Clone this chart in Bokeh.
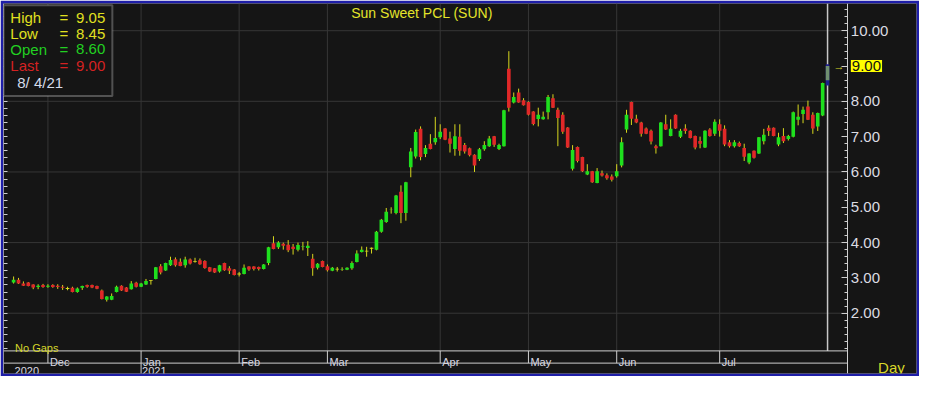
import numpy as np
from bokeh.plotting import figure
from bokeh.models import (ColumnDataSource, FixedTicker, LinearAxis, Range1d, Label,
                          PrintfTickFormatter, BoxAnnotation)
from bokeh.embed import file_html
from bokeh.resources import INLINE

# ---------------- data ----------------
title_text = "Sun Sweet PCL (SUN)"
opens = [2.87, 2.95, 2.84, 2.87, 2.81, 2.74, 2.80, 2.75, 2.80, 2.78, 2.75, 2.70, 2.72, 2.60, 2.72, 2.80, 2.80, 2.77, 2.64, 2.38,
         2.38, 2.60, 2.78, 2.73, 2.68, 2.86, 2.75, 2.81, 2.93, 2.97, 3.33, 3.21, 3.36, 3.53, 3.46, 3.36, 3.52, 3.47, 3.50, 3.48,
         3.30, 3.27, 3.18, 3.42, 3.27, 3.24, 3.11, 3.11, 3.32, 3.32, 3.31, 3.25, 3.42, 3.98, 3.87, 3.97, 3.94, 3.88, 3.80, 3.89,
         3.85, 3.54, 3.29, 3.48, 3.33, 3.20, 3.25, 3.24, 3.23, 3.27, 3.45, 3.73, 3.76, 3.84, 3.80, 4.31, 4.58, 4.93, 4.84, 5.44,
         4.84, 6.13, 6.44, 7.22, 6.51, 6.80, 6.84, 6.98, 7.23, 6.95, 6.65, 7.00, 6.76, 6.67, 6.49, 6.37, 6.64, 6.73, 7.01, 6.65,
         6.73, 8.92, 7.97, 8.25, 8.03, 7.98, 7.71, 7.50, 7.49, 7.69, 8.09, 7.76, 7.62, 7.26, 6.09, 6.71, 6.42, 5.93, 6.02, 5.69,
         5.96, 5.91, 5.87, 5.88, 6.18, 7.20, 7.98, 7.51, 7.40, 7.23, 7.17, 6.73, 6.73, 7.35, 7.02, 7.62, 7.00, 7.23, 7.17, 7.02,
         6.88, 6.69, 7.20, 7.08, 7.35, 7.22, 6.84, 6.73, 6.82, 6.68, 6.27, 6.60, 6.52, 6.87, 7.25, 7.25, 6.78, 7.02, 6.93, 7.00,
         7.48, 7.64, 7.85, 7.62, 7.29, 7.60, 8.60]
highs = [3.04, 3.00, 2.90, 2.88, 2.82, 2.82, 2.83, 2.82, 2.82, 2.82, 2.80, 2.75, 2.75, 2.73, 2.78, 2.81, 2.81, 2.78, 2.67, 2.48,
         2.56, 2.78, 2.79, 2.74, 2.91, 2.89, 2.86, 2.97, 2.94, 3.31, 3.39, 3.43, 3.60, 3.58, 3.55, 3.60, 3.55, 3.57, 3.55, 3.50,
         3.31, 3.28, 3.37, 3.43, 3.33, 3.25, 3.17, 3.38, 3.33, 3.33, 3.32, 3.39, 3.88, 4.18, 4.04, 4.00, 4.07, 3.96, 4.00, 4.02,
         4.04, 3.68, 3.42, 3.49, 3.38, 3.31, 3.31, 3.30, 3.30, 3.47, 3.78, 3.89, 3.88, 3.86, 4.33, 4.67, 4.98, 5.00, 5.35, 5.62,
         5.72, 6.68, 7.20, 7.29, 6.76, 7.07, 7.56, 7.35, 7.24, 7.14, 7.35, 7.35, 6.82, 6.69, 6.50, 6.68, 6.87, 7.02, 7.02, 6.80,
         7.76, 9.42, 8.25, 8.36, 8.09, 8.00, 7.72, 7.82, 7.71, 8.18, 8.20, 7.82, 7.69, 7.27, 6.76, 6.72, 6.43, 6.22, 6.03, 6.11,
         6.04, 5.96, 5.93, 6.22, 6.98, 7.76, 7.99, 7.62, 7.42, 7.26, 7.20, 6.77, 7.41, 7.62, 7.49, 7.63, 7.22, 7.35, 7.18, 7.03,
         7.00, 7.18, 7.24, 7.49, 7.49, 7.32, 6.90, 6.90, 6.86, 6.80, 6.53, 6.61, 6.99, 7.22, 7.32, 7.26, 7.11, 7.24, 7.05, 7.71,
         7.91, 7.85, 8.02, 7.69, 7.68, 8.53, 9.05]
lows = [2.84, 2.83, 2.77, 2.76, 2.68, 2.68, 2.72, 2.72, 2.72, 2.69, 2.66, 2.65, 2.59, 2.58, 2.66, 2.72, 2.71, 2.68, 2.39, 2.33,
        2.37, 2.59, 2.63, 2.60, 2.67, 2.73, 2.74, 2.80, 2.81, 2.96, 3.10, 3.20, 3.34, 3.32, 3.33, 3.29, 3.38, 3.43, 3.37, 3.26,
        3.17, 3.14, 3.15, 3.20, 3.11, 3.07, 3.04, 3.10, 3.20, 3.21, 3.21, 3.24, 3.36, 3.81, 3.82, 3.80, 3.73, 3.66, 3.75, 3.78,
        3.62, 3.06, 3.24, 3.30, 3.18, 3.19, 3.18, 3.20, 3.22, 3.23, 3.44, 3.72, 3.60, 3.69, 3.78, 4.28, 4.56, 4.82, 4.80, 4.55,
        4.62, 5.85, 6.38, 6.33, 6.42, 6.64, 6.77, 6.93, 6.90, 6.55, 6.46, 6.46, 6.52, 6.44, 6.00, 6.31, 6.60, 6.71, 6.71, 6.62,
        6.72, 7.71, 7.94, 7.96, 7.88, 7.60, 7.32, 7.29, 7.48, 7.49, 7.81, 6.73, 7.08, 6.68, 6.04, 6.27, 6.00, 5.91, 5.69, 5.68,
        5.87, 5.78, 5.73, 5.84, 6.13, 7.11, 7.33, 7.38, 7.00, 7.07, 6.78, 6.52, 6.72, 7.19, 7.01, 7.22, 6.96, 7.08, 6.95, 6.64,
        6.67, 6.68, 7.00, 7.02, 7.00, 6.73, 6.69, 6.69, 6.71, 6.31, 6.22, 6.38, 6.51, 6.78, 7.02, 7.01, 6.73, 6.82, 6.89, 6.98,
        7.32, 7.38, 7.47, 7.08, 7.16, 7.58, 8.45]
closes = [2.95, 2.84, 2.78, 2.77, 2.73, 2.78, 2.74, 2.78, 2.74, 2.74, 2.72, 2.70, 2.60, 2.70, 2.77, 2.75, 2.73, 2.69, 2.40, 2.47,
          2.49, 2.75, 2.64, 2.61, 2.84, 2.75, 2.84, 2.91, 2.93, 3.30, 3.15, 3.42, 3.51, 3.36, 3.34, 3.52, 3.41, 3.47, 3.39, 3.28,
          3.18, 3.15, 3.36, 3.22, 3.20, 3.08, 3.11, 3.29, 3.24, 3.25, 3.25, 3.38, 3.87, 3.82, 4.00, 3.91, 3.78, 3.82, 3.93, 3.90,
          3.91, 3.27, 3.40, 3.31, 3.22, 3.29, 3.25, 3.25, 3.29, 3.42, 3.69, 3.80, 3.76, 3.84, 4.31, 4.65, 4.87, 4.94, 5.33, 4.84,
          5.71, 6.58, 7.13, 6.42, 6.68, 6.65, 6.96, 7.14, 6.91, 6.80, 7.01, 6.60, 6.58, 6.47, 6.18, 6.64, 6.76, 6.95, 6.77, 6.76,
          7.75, 7.82, 8.12, 7.97, 7.89, 7.62, 7.36, 7.62, 7.56, 8.12, 7.82, 7.53, 7.14, 6.69, 6.62, 6.31, 6.02, 6.02, 5.71, 6.02,
          5.90, 5.82, 5.78, 6.02, 6.84, 7.62, 7.51, 7.40, 7.08, 7.08, 6.86, 6.67, 7.40, 7.20, 7.22, 7.23, 7.17, 7.16, 6.96, 6.69,
          6.80, 7.17, 7.02, 7.42, 7.17, 6.78, 6.73, 6.84, 6.73, 6.43, 6.52, 6.40, 6.98, 7.05, 7.16, 7.02, 6.98, 6.87, 7.02, 7.69,
          7.56, 7.76, 7.48, 7.23, 7.67, 8.52, 9.00]

months = ["Dec", "Jan", "Feb", "Mar", "Apr", "May", "Jun", "Jul"]
month_start = [7, 26, 46, 64, 87, 105, 123, 144]      # candle index of first session
years = ["2020", "2021"]
year_label_at = [0, 26]
year_start = [26]
price_ticks = [2, 3, 4, 5, 6, 7, 8, 9, 10]
grid_ticks = [2, 4, 6, 8, 10]
last_date = "8/ 4/21"

# ---------------- styling ----------------
BG = "#151515"
NAVY = "#1e1ea8"
GREEN = "#1ee01e"
RED = "#e02828"
WICK = "#d8d81e"
YEL = "#e4e42a"
LINE = "#cfcfcf"
GRID = "#363636"
FONT = "Liberation Sans"

n = len(opens)
idx = list(range(n))
x0, x_axis, x1 = -2.06, 170.14, 184.14     # frame left, price-axis line, frame right
y0, y1 = 0.293, 10.77
band_top, year_top = 0.933, 0.587

W, H = 919, 376
p = figure(width=W, height=H, output_backend="svg", toolbar_location=None,
           x_range=Range1d(x0, x1), y_range=Range1d(y0, y1),
           x_axis_location=None, y_axis_location=None,
           min_border_left=3, min_border_right=3, min_border_top=3, min_border_bottom=3,
           background_fill_color=BG, border_fill_color=NAVY, outline_line_color=None)
p.grid.visible = False

minor = [round(v, 1) for v in np.arange(1.0, 10.7, 0.2)]

yax = LinearAxis(ticker=FixedTicker(ticks=price_ticks, minor_ticks=minor),
                 formatter=PrintfTickFormatter(format="%.2f"), fixed_location=x_axis,
                 major_tick_in=6, major_tick_out=0, minor_tick_in=3, minor_tick_out=0,
                 axis_line_color=LINE, major_tick_line_color=LINE, minor_tick_line_color=LINE,
                 major_label_text_color="#dcdce2", major_label_text_font=FONT,
                 major_label_text_font_size="15px", major_label_standoff=3)
p.add_layout(yax, "right")

lax = LinearAxis(ticker=FixedTicker(ticks=[], minor_ticks=minor), fixed_location=x0,
                 major_tick_in=0, major_tick_out=0, minor_tick_in=4, minor_tick_out=0,
                 major_label_standoff=0, axis_line_color=LINE, minor_tick_line_color=LINE)
p.add_layout(lax, "left")

# horizontal gridlines (stop at the price axis)
p.segment(x0=[x0] * len(grid_ticks), y0=grid_ticks, x1=[x_axis] * len(grid_ticks), y1=grid_ticks,
          line_color=GRID, line_width=1)
# vertical month gridlines (stop at the date band)
p.segment(x0=month_start, y0=[band_top] * len(month_start), x1=month_start, y1=[y1] * len(month_start),
          line_color=GRID, line_width=1)

# cursor line at last session
p.segment(x0=[idx[-1]], y0=[band_top], x1=[idx[-1]], y1=[y1], line_color="#c8c8c8", line_width=1.5)

# candles
tops, bots, cols = [], [], []
for o, c in zip(opens, closes):
    if abs(c - o) < 0.005:
        tops.append(o + 0.012); bots.append(o - 0.012); cols.append(WICK)
    else:
        tops.append(max(o, c)); bots.append(min(o, c)); cols.append(GREEN if c > o else RED)

m = n - 1
src = ColumnDataSource(dict(x=idx[:m], h=highs[:m], l=lows[:m], t=tops[:m], b=bots[:m], c=cols[:m]))
p.segment(x0="x", y0="l", x1="x", y1="h", source=src, line_color=WICK, line_width=1)
p.vbar(x="x", top="t", bottom="b", width=0.74, fill_color="c", line_color=None, source=src)

# selected last candle
last = ColumnDataSource(dict(x=[idx[-1]], h=[highs[-1]], l=[lows[-1]], t=[tops[-1]], b=[bots[-1]]))
p.vbar(x="x", top="h", bottom="l", width=0.74, fill_color="#1e1e8c", line_color=None, source=last)
p.vbar(x="x", top="t", bottom="b", width=0.74, fill_color="#6f8f70", line_color=None, source=last)

# date bands
p.segment(x0=[x0, x0], y0=[band_top, year_top], x1=[x_axis, x_axis], y1=[band_top, year_top],
          line_color=LINE, line_width=1)
p.segment(x0=month_start, y0=[year_top] * len(month_start), x1=month_start, y1=[band_top] * len(month_start),
          line_color=LINE, line_width=1)
p.segment(x0=year_start, y0=[y0] * len(year_start), x1=year_start, y1=[year_top] * len(year_start),
          line_color=LINE, line_width=1)
for mname, ms in zip(months, month_start):
    p.add_layout(Label(x=ms, y=0.615, x_offset=2, text=mname, text_color="#d8d8e2",
                       text_font=FONT, text_font_size="11px", text_baseline="alphabetic"))
for yname, ys in zip(years, year_label_at):
    p.add_layout(Label(x=ys, y=0.36, x_offset=1, text=yname, text_color="#d8d8e2",
                       text_font=FONT, text_font_size="11px", text_baseline="alphabetic"))

# title and notes
p.add_layout(Label(x=83.3, y=10.51, text=title_text, text_color=YEL, text_font=FONT,
                   text_font_size="14px", text_align="center", text_baseline="middle"))
p.add_layout(Label(x=0.3, y=1.02, text="No  Gaps", text_color="#d6d62a", text_font=FONT,
                   text_font_size="11px", text_baseline="alphabetic"))
p.add_layout(Label(x=176.3, y=0.47, text="Day", text_color="#d8d82a", text_font=FONT,
                   text_font_size="15px", text_baseline="alphabetic"))

# last price marker
p.add_layout(Label(x=x_axis, y=closes[-1], x_offset=3, text="%.2f" % closes[-1], text_color="#111111",
                   text_font=FONT, text_font_size="15px", text_baseline="middle",
                   background_fill_color="#ffff00", padding=1))
p.add_layout(Label(x=167.2, y=closes[-1], text="\u2192", text_color="#d8d82a",
                   text_font=FONT, text_font_size="11px", text_baseline="middle"))

# info box
p.add_layout(BoxAnnotation(left=x0, right=20.14, top=10.72, bottom=8.15, fill_color=BG, fill_alpha=1,
                           line_color="#e2e2e2", line_width=2, level="annotation"))
rows = [("High", "%.2f" % highs[-1], "#e0e020"),
        ("Low", "%.2f" % lows[-1], "#e0e020"),
        ("Open", "%.2f" % opens[-1], "#22d022"),
        ("Last", "%.2f" % closes[-1], "#d42222")]
row_y = [10.37, 9.92, 9.47, 9.01]
for (name, val, c1), yy in zip(rows, row_y):
    p.add_layout(Label(x=-0.66, y=yy, text=name, text_color=c1, text_font=FONT,
                       text_font_size="15px", text_baseline="middle"))
    p.add_layout(Label(x=9.34, y=yy, text="=", text_color=c1, text_font=FONT,
                       text_font_size="15px", text_baseline="middle"))
    p.add_layout(Label(x=12.74, y=yy, text=val, text_color=c1, text_font=FONT,
                       text_font_size="15px", text_baseline="middle"))
p.add_layout(Label(x=0.74, y=8.53, text=last_date, text_color="#d4dcea", text_font=FONT,
                   text_font_size="15px", text_baseline="middle"))

open("out.html", "w").write(file_html(p, INLINE))
